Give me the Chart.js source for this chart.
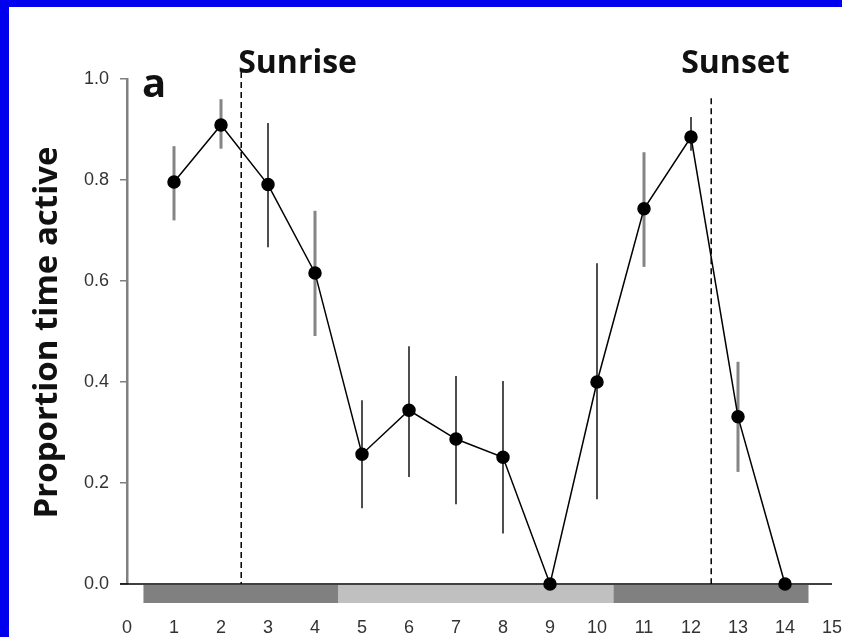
<!DOCTYPE html>
<html>
<head>
<meta charset="utf-8">
<script src="https://cdn.jsdelivr.net/npm/chart.js@4.4.1/dist/chart.umd.min.js"></script>
<style>
  html, body { margin: 0; padding: 0; background: #0000ee; }
  #wrap { position: absolute; left: 9px; top: 7px; width: 833px; height: 630px; background: #fff; }
  canvas { display: block; }
</style>
</head>
<body>
<div id="wrap"><canvas id="grafica" width="833" height="630"></canvas></div>
<script>
// hora del día (tramos) y proporción de tiempo activo
const hours = [1, 2, 3, 4, 5, 6, 7, 8, 9, 10, 11, 12, 13, 14];
const activity = [0.796, 0.909, 0.791, 0.616, 0.257, 0.344, 0.287, 0.251, 0.0, 0.400, 0.743, 0.885, 0.331, 0.0];
const errLow  = [0.720, 0.862, 0.667, 0.491, 0.150, 0.212, 0.158, 0.100, null, 0.168, 0.628, 0.858, 0.222, null];
const errHigh = [0.867, 0.960, 0.913, 0.739, 0.364, 0.471, 0.412, 0.402, null, 0.635, 0.855, 0.925, 0.440, null];

const xTicks = [0, 1, 2, 3, 4, 5, 6, 7, 8, 9, 10, 11, 12, 13, 14, 15];
const yTicks = [0.0, 0.2, 0.4, 0.6, 0.8, 1.0];

// franjas noche / día bajo el eje
const bandEdges = [0.35, 4.5, 10.35, 14.5];
const bandKind = ["noche", "dia", "noche"];

// amanecer y atardecer
const sunLines = [
  { label: "Sunrise", x: 2.43, top: 1.014 },
  { label: "Sunset", x: 12.43, top: 0.962 }
];

// estilo de barras de error (gruesa gris / fina oscura)
const errThick = [true, true, false, true, false, false, false, false, false, false, true, false, true, false];

const puntos = hours.map((h, i) => ({ x: h, y: activity[i] }));

const extras = {
  id: "extras",
  beforeDatasetsDraw(chart) {
    const { ctx, scales: { x, y } } = chart;
    const y0 = y.getPixelForValue(0);
    ctx.save();

    // franjas
    for (let i = 0; i < bandKind.length; i++) {
      const a = x.getPixelForValue(bandEdges[i]);
      const b = x.getPixelForValue(bandEdges[i + 1]);
      ctx.fillStyle = bandKind[i] === "dia" ? "#c0c0c0" : "#808080";
      ctx.fillRect(a, y0 + 1, b - a, 18);
    }

    // eje x (sale un poco a la izquierda del eje y)
    ctx.strokeStyle = "#000";
    ctx.lineWidth = 1.5;
    ctx.beginPath();
    ctx.moveTo(x.left - 7, y0);
    ctx.lineTo(x.right, y0);
    ctx.stroke();

    // líneas discontinuas
    ctx.lineWidth = 1.5;
    ctx.setLineDash([6, 4]);
    sunLines.forEach((s) => {
      const px = x.getPixelForValue(s.x);
      ctx.beginPath();
      ctx.moveTo(px, y.getPixelForValue(s.top));
      ctx.lineTo(px, y0);
      ctx.stroke();
    });
    ctx.setLineDash([]);

    // barras de error
    hours.forEach((h, i) => {
      if (errLow[i] === null) return;
      const px = x.getPixelForValue(h);
      ctx.strokeStyle = errThick[i] ? "#858585" : "#222";
      ctx.lineWidth = errThick[i] ? 3 : 1.6;
      ctx.beginPath();
      ctx.moveTo(px, y.getPixelForValue(errLow[i]));
      ctx.lineTo(px, y.getPixelForValue(errHigh[i]));
      ctx.stroke();
    });
    ctx.restore();
  },
  afterDraw(chart) {
    const { ctx, scales: { x, y } } = chart;
    ctx.save();
    ctx.fillStyle = "#111";
    ctx.textBaseline = "alphabetic";
    ctx.textAlign = "left";

    ctx.font = "bold 32px 'Open Sans'";
    ctx.fillText(sunLines[0].label, x.getPixelForValue(sunLines[0].x) - 3, 66);
    ctx.fillText(sunLines[1].label, x.getPixelForValue(sunLines[1].x) - 30, 66);

    ctx.font = "bold 40px 'Open Sans'";
    ctx.fillText("a", x.left + 15, 90);

    // título eje y
    ctx.font = "bold 33px 'Open Sans'";
    ctx.textAlign = "center";
    ctx.textBaseline = "middle";
    ctx.translate(39, (y.top + y.bottom) / 2 + 1);
    ctx.rotate(-Math.PI / 2);
    ctx.fillText("Proportion time active", 0, 0);
    ctx.restore();
  }
};

new Chart(document.getElementById("grafica").getContext("2d"), {
  type: "scatter",
  data: {
    datasets: [{
      data: puntos,
      showLine: true,
      borderColor: "#000",
      borderWidth: 1.5,
      pointRadius: 6,
      pointHoverRadius: 6,
      pointBackgroundColor: "#000",
      pointBorderColor: "#000",
      clip: false
    }]
  },
  options: {
    responsive: false,
    animation: false,
    layout: { padding: { top: 72, right: 10, left: 0, bottom: 0 } },
    plugins: { legend: { display: false }, tooltip: { enabled: false } },
    scales: {
      x: {
        type: "linear",
        min: 0,
        max: 15,
        afterFit: (s) => { s.height = 53; s.paddingLeft = 0; s.paddingRight = 0; },
        afterBuildTicks: (s) => { s.ticks = xTicks.map((v) => ({ value: v })); },
        grid: { display: false, drawTicks: false },
        border: { display: false },
        ticks: {
          padding: 33,
          color: "#333",
          font: { family: "'Liberation Sans', Arial", size: 18 },
          maxRotation: 0,
          autoSkip: false
        }
      },
      y: {
        min: 0,
        max: 1,
        afterFit: (s) => { s.width = 118; s.paddingTop = 0; s.paddingBottom = 0; },
        afterBuildTicks: (s) => { s.ticks = yTicks.map((v) => ({ value: v })); },
        grid: { drawOnChartArea: false, drawTicks: true, tickLength: 7, color: "#808080", lineWidth: 1.5 },
        border: { display: true, color: "#808080", width: 2.5 },
        ticks: {
          padding: 11,
          color: "#333",
          font: { family: "'Liberation Sans', Arial", size: 18 },
          callback: (v) => v.toFixed(1)
        }
      }
    }
  },
  plugins: [extras]
});
</script>
</body>
</html>
